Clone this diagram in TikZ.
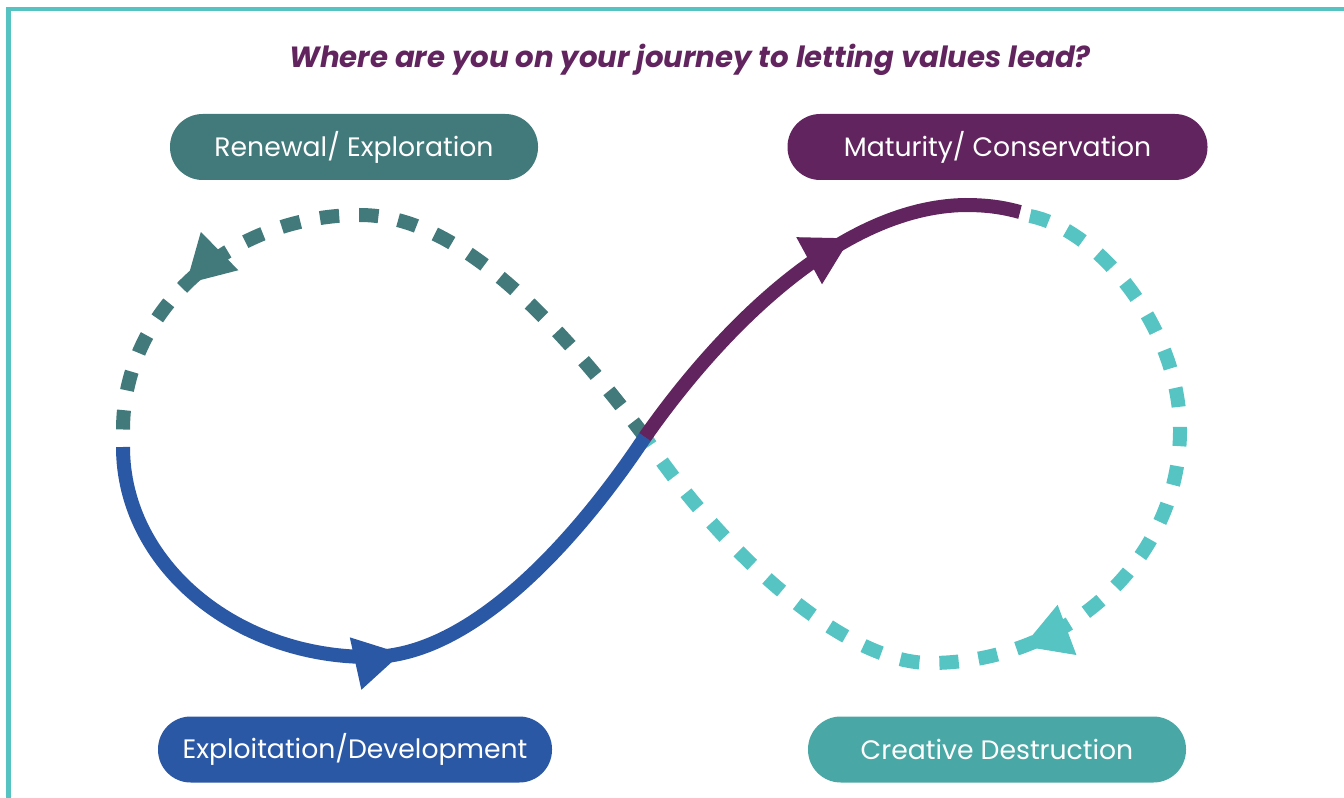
\documentclass[tikz,border=0pt]{standalone}
\usepackage{fontspec}
\setmainfont{Poppins}
\usetikzlibrary{arrows.meta,decorations.markings}

\definecolor{rimteal}{HTML}{55C3C1}
\definecolor{darkteal}{HTML}{42797A}
\definecolor{plum}{HTML}{62245E}
\definecolor{royal}{HTML}{2B58A5}
\definecolor{lightteal}{HTML}{55C4C2}
\definecolor{seateal}{HTML}{49A8A5}

\tikzset{
  pill/.style={rounded corners=24.5pt, minimum height=49.5pt, inner sep=0pt,
    text=white, font=\fontsize{20}{24}\selectfont},
  loopline/.style={line width=10.5pt},
  dotline/.style={loopline, dash pattern=on 14.5pt off 15pt},
  headat/.style={postaction={decorate}, decoration={markings,
    mark=at position #1 with {\arrow{Triangle[length=35pt,width=40pt,line width=1pt]}}}}
}

\begin{document}
\begin{tikzpicture}[x=0.75pt,y=-0.75pt]
   \useasboundingbox (0,0) rectangle (1344,798);
   \draw[rimteal, line width=3.4pt] (8.5,800) -- (8.5,9) -- (1346,9);

   \node[font=\fontsize{21.9}{26}\selectfont\bfseries\itshape, text=plum] (title) at (690,60)
      {Where are you on your journey to letting values lead?};

   % the figure eight
   \coordinate (cross) at (645,437);
   \coordinate (renewtop) at (360,215);
   \coordinate (renewleft) at (123,430);
   \coordinate (exploitleft) at (123,447);
   \coordinate (exploitbot) at (370,657);
   \coordinate (maturetop) at (965,205);
   \coordinate (matureend) at (1020,212);
   \coordinate (creativestart) at (1030,216);
   \coordinate (creativeright) at (1180,430);
   \coordinate (creativebot) at (930,663);

   \draw[dotline, darkteal, headat=0.775] (cross) .. controls (560,325) and (460,215) .. (renewtop)
      .. controls (229,215) and (123,311) .. (renewleft);
   \draw[dotline, lightteal, headat=0.545] (creativestart) .. controls (1100,230) and (1180,330) .. (creativeright)
      .. controls (1180,559) and (1068,663) .. (creativebot)
      .. controls (840,663) and (715,543) .. (cross);
   \draw[loopline, royal, headat=0.54] (exploitleft) .. controls (123,563) and (234,657) .. (exploitbot)
      .. controls (480,657) and (590,520) .. (cross);
   \draw[loopline, plum, headat=0.62] (cross) .. controls (720,330) and (840,207) .. (maturetop)
      .. controls (990,205) and (1005,208) .. (matureend);

   \node[pill, fill=darkteal, minimum width=276pt] (renewal) at (354,147) {Renewal/ Exploration};
   \node[pill, fill=plum, minimum width=315pt] (maturity) at (997.5,147) {Maturity/ Conservation};
   \node[pill, fill=royal, minimum width=295.5pt] (exploit) at (355,749.5) {Exploitation/Development};
   \node[pill, fill=seateal, minimum width=283.5pt] (creative) at (997,749.5) {Creative Destruction};
\end{tikzpicture}
\end{document}
